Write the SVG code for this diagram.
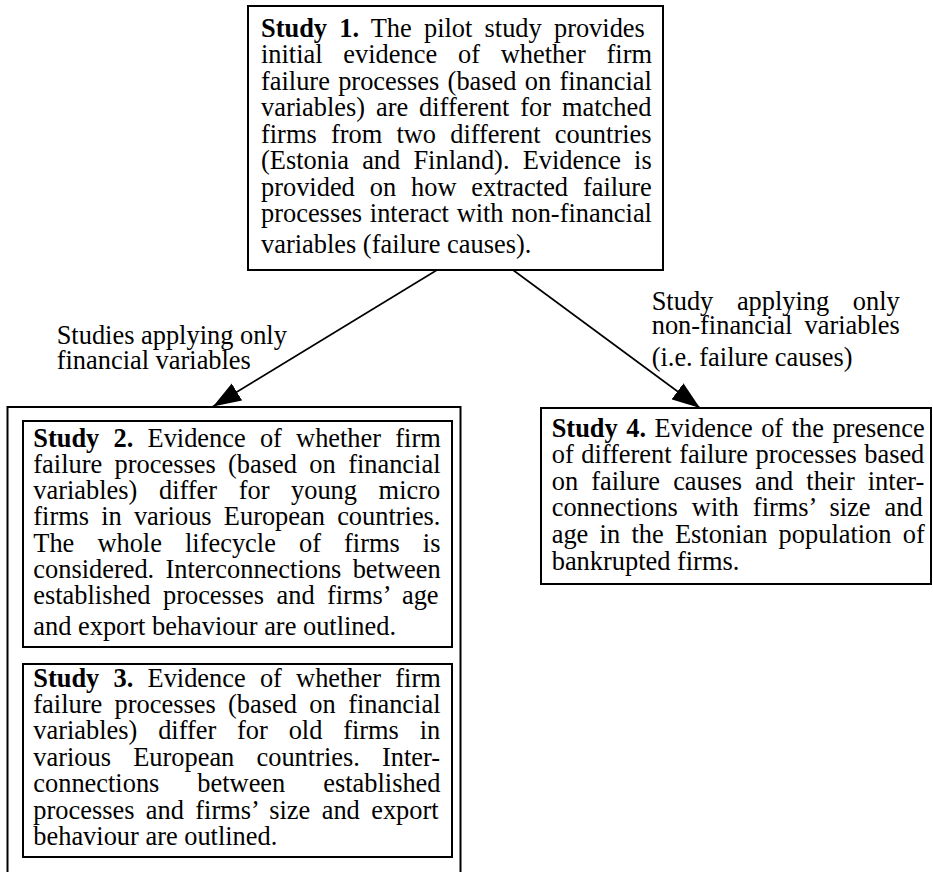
<svg xmlns="http://www.w3.org/2000/svg" width="933" height="872" viewBox="0 0 933 872">
<style>
text { font-family: "Liberation Serif", "Times New Roman", serif; font-size: 26.4px; fill: #000; }
.b { font-weight: bold; }
.box { fill: #fff; stroke: #000; stroke-width: 2; }
.conn line { stroke: #000; stroke-width: 1.6; }
</style>
<defs>
<marker id="ah" markerUnits="userSpaceOnUse" markerWidth="28" markerHeight="20" refX="28" refY="10" orient="auto" viewBox="0 0 28 20">
<path d="M0,0 L28,10 L0,20 z" fill="#000"/>
</marker>
</defs>
<rect x="0" y="0" width="933" height="872" fill="#fff"/>

<g id="study1">
<rect class="box" x="248" y="6" width="415" height="264"/>
<text x="261" y="36.7" style="word-spacing:5.6px"><tspan class="b">Study 1.</tspan> The pilot study provides</text>
<text x="261" y="63.2" style="word-spacing:14.2px">initial evidence of whether firm</text>
<text x="261" y="89.7" style="word-spacing:1.7px">failure processes (based on financial</text>
<text x="261" y="116.2" style="word-spacing:4.3px">variables) are different for matched</text>
<text x="261" y="142.7" style="word-spacing:7.6px">firms from two different countries</text>
<text x="261" y="169.2" style="word-spacing:6.6px">(Estonia and Finland). Evidence is</text>
<text x="261" y="195.7" style="word-spacing:8.3px">provided on how extracted failure</text>
<text x="261" y="222.3" style="word-spacing:1.1px">processes interact with non-financial</text>
<text x="261" y="252.5">variables (failure causes).</text>
</g>

<g id="outer-box">
<rect class="box" x="7.5" y="407" width="453" height="480"/>
</g>

<g id="study2">
<rect class="box" x="23" y="421" width="429" height="226"/>
<text x="33.3" y="446.7" style="word-spacing:7.6px"><tspan class="b">Study 2.</tspan> Evidence of whether firm</text>
<text x="33.3" y="472.8" style="word-spacing:5.8px">failure processes (based on financial</text>
<text x="33.3" y="498.6" style="word-spacing:15px">variables) differ for young micro</text>
<text x="33.3" y="525" style="word-spacing:5.6px">firms in various European countries.</text>
<text x="33.3" y="551.7" style="word-spacing:16.5px">The whole lifecycle of firms is</text>
<text x="33.3" y="577.7" style="word-spacing:4.7px">considered. Interconnections between</text>
<text x="33.3" y="604" style="word-spacing:5.8px">established processes and firms’ age</text>
<text x="33.3" y="635">and export behaviour are outlined.</text>
</g>

<g id="study3">
<rect class="box" x="23" y="664" width="429" height="193"/>
<text x="33.3" y="686.7" style="word-spacing:7.6px"><tspan class="b">Study 3.</tspan> Evidence of whether firm</text>
<text x="33.3" y="712.7" style="word-spacing:5.8px">failure processes (based on financial</text>
<text x="33.3" y="739.3" style="word-spacing:14.2px">variables) differ for old firms in</text>
<text x="33.3" y="766" style="word-spacing:15.6px">various European countries. Inter-</text>
<text x="33.3" y="792.3" style="word-spacing:31.4px">connections between established</text>
<text x="33.3" y="819" style="word-spacing:4.8px">processes and firms’ size and export</text>
<text x="33.3" y="845">behaviour are outlined.</text>
</g>

<g id="study4">
<rect class="box" x="541" y="408" width="390" height="176"/>
<text x="551.7" y="436.7" style="word-spacing:1.9px"><tspan class="b">Study 4.</tspan> Evidence of the presence</text>
<text x="551.7" y="463.3" style="word-spacing:0.95px">of different failure processes based</text>
<text x="551.7" y="489.8" style="word-spacing:6.5px">on failure causes and their inter-</text>
<text x="551.7" y="516" style="word-spacing:7.5px">connections with firms’ size and</text>
<text x="551.7" y="542.7" style="word-spacing:4.7px">age in the Estonian population of</text>
<text x="551.7" y="569.5">bankrupted firms.</text>
</g>

<g id="connectors" class="conn">
<line x1="437" y1="270" x2="213" y2="406.5" marker-end="url(#ah)"/>
<line x1="513" y1="270" x2="700" y2="408" marker-end="url(#ah)"/>
</g>

<g id="label-financial">
<text x="56.7" y="343.5">Studies applying only</text>
<text x="56.7" y="368.5">financial variables</text>
</g>

<g id="label-nonfinancial">
<text x="651.7" y="309.5" style="word-spacing:17px">Study applying only</text>
<text x="651.7" y="334" style="word-spacing:5.6px">non-financial variables</text>
<text x="651.7" y="366">(i.e. failure causes)</text>
</g>
</svg>
